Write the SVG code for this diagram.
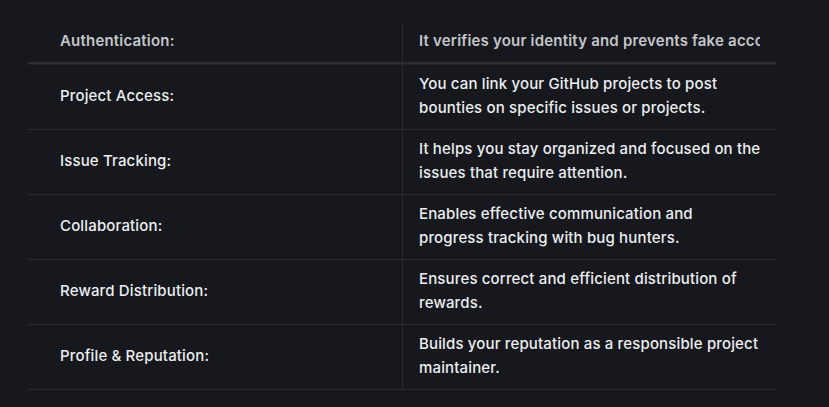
<svg xmlns="http://www.w3.org/2000/svg" width="829" height="407" viewBox="0 0 829 407">
<defs>
<style>
.bg{fill:#16181d}
.hl{fill:#2c2e36}
.rl{stroke:#2a2c33;stroke-width:1}
.vl{stroke:#2a2c33;stroke-width:1}
.h{font-family:Inter,"Liberation Sans",sans-serif;font-size:15px;font-weight:600;letter-spacing:0.2px;fill:#c4c5c9}
.t{font-family:Inter,"Liberation Sans",sans-serif;font-size:15px;font-weight:500;letter-spacing:0.15px;fill:#eceef0}
</style>
<clipPath id="hc"><rect x="402" y="0" width="358" height="64"/></clipPath>
</defs>
<rect class="bg" x="0" y="0" width="829" height="407"/>
<g id="connectors">
<line class="vl" x1="402.5" y1="22" x2="402.5" y2="389"/>
<rect class="hl" x="28" y="62" width="748" height="2.5"/>
<line class="rl" x1="28" y1="129.5" x2="776" y2="129.5"/>
<line class="rl" x1="28" y1="194.5" x2="776" y2="194.5"/>
<line class="rl" x1="28" y1="259.5" x2="776" y2="259.5"/>
<line class="rl" x1="28" y1="324.5" x2="776" y2="324.5"/>
<line class="rl" x1="28" y1="389.5" x2="776" y2="389.5"/>
</g>
<g id="header">
<text class="h" x="60" y="46">Authentication:</text>
<text class="h" x="419" y="46" clip-path="url(#hc)">It verifies your identity and prevents fake accounts.</text>
</g>
<g id="row1">
<text class="t" x="60" y="101">Project Access:</text>
<text class="t" x="419" y="89">You can link your GitHub projects to post</text>
<text class="t" x="419" y="113">bounties on specific issues or projects.</text>
</g>
<g id="row2">
<text class="t" x="60" y="166">Issue Tracking:</text>
<text class="t" x="419" y="154">It helps you stay organized and focused on the</text>
<text class="t" x="419" y="178">issues that require attention.</text>
</g>
<g id="row3">
<text class="t" x="60" y="231">Collaboration:</text>
<text class="t" x="419" y="219">Enables effective communication and</text>
<text class="t" x="419" y="243">progress tracking with bug hunters.</text>
</g>
<g id="row4">
<text class="t" x="60" y="296">Reward Distribution:</text>
<text class="t" x="419" y="284">Ensures correct and efficient distribution of</text>
<text class="t" x="419" y="308">rewards.</text>
</g>
<g id="row5">
<text class="t" x="60" y="361">Profile &amp; Reputation:</text>
<text class="t" x="419" y="349">Builds your reputation as a responsible project</text>
<text class="t" x="419" y="373">maintainer.</text>
</g>
</svg>
